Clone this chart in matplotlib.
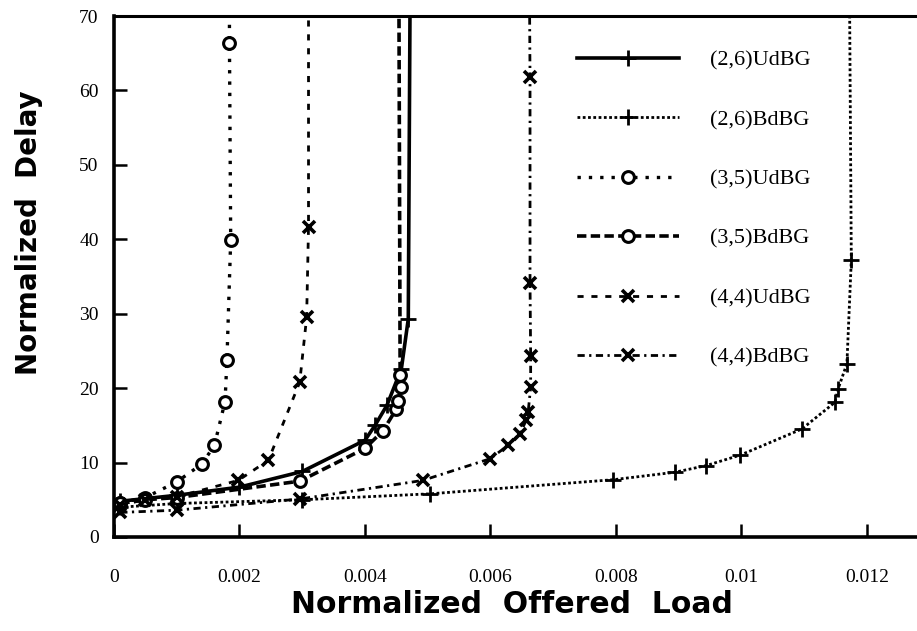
import matplotlib
matplotlib.use("Agg")
import matplotlib.pyplot as plt

# Delay vs. offered load for the three (d,k) de Bruijn configurations
ud26_x = [0.0001, 0.001, 0.002, 0.003, 0.004, 0.00416, 0.00435, 0.00458, 0.00469, 0.00472]
ud26_y = [4.8, 5.6, 6.7, 8.8, 13.0, 15.0, 17.7, 22.6, 29.3, 75]

bd26_x = [0.0001, 0.001, 0.003, 0.00504, 0.00796, 0.00894, 0.00944, 0.00998,
          0.01096, 0.01149, 0.01154, 0.01168, 0.01175, 0.01172]
bd26_y = [4.0, 4.5, 5.0, 5.8, 7.7, 8.7, 9.6, 11.0, 14.5, 18.1, 19.9, 23.3, 37.2, 75]

ud35_x = [0.0001, 0.0005, 0.001, 0.0014, 0.0016, 0.00177, 0.0018, 0.00186, 0.00184, 0.00184]
ud35_y = [4.6, 5.3, 7.4, 9.8, 12.3, 18.2, 23.8, 39.9, 66.4, 75]

bd35_x = [0.0001, 0.0005, 0.001, 0.00296, 0.004, 0.00429, 0.0045, 0.00453, 0.00458, 0.00456, 0.00454]
bd35_y = [4.5, 5.0, 5.3, 7.5, 11.9, 14.3, 17.2, 18.3, 20.1, 21.7, 75]

ud44_x = [0.0001, 0.0005, 0.001, 0.00198, 0.00246, 0.00296, 0.00307, 0.0031, 0.0031]
ud44_y = [4.3, 5.0, 5.4, 7.6, 10.3, 20.8, 29.5, 41.6, 75]

bd44_x = [0.0001, 0.001, 0.00296, 0.00492, 0.00599, 0.00628, 0.00647, 0.00657,
          0.0066, 0.00664, 0.00664, 0.00663, 0.00663, 0.00662]
bd44_y = [3.3, 3.6, 5.1, 7.6, 10.5, 12.3, 13.9, 15.7, 16.8, 20.1, 24.3, 34.1, 61.8, 75]

series_labels = ["(2,6)UdBG", "(2,6)BdBG", "(3,5)UdBG", "(3,5)BdBG", "(4,4)UdBG", "(4,4)BdBG"]

x_ticks = [0, 0.002, 0.004, 0.006, 0.008, 0.01, 0.012]
x_tick_labels = ["0", "0.002", "0.004", "0.006", "0.008", "0.01", "0.012"]
y_ticks = [0, 10, 20, 30, 40, 50, 60, 70]

fig = plt.figure(figsize=(9.17, 6.31), dpi=100)
ax = fig.add_axes([0.1243, 0.149, 1.0 - 0.1243, 0.9746 - 0.149])

k = dict(color="black", clip_on=True)
ax.plot(ud26_x, ud26_y, ls="-", lw=2.6, marker="+", ms=12, mew=2.0, label=series_labels[0], **k)
ax.plot(bd26_x, bd26_y, ls=(0, (1, 0.9)), lw=2.0, marker="+", ms=12, mew=2.0, label=series_labels[1], **k)
ax.plot(ud35_x, ud35_y, ls=(0, (1, 2.4)), lw=2.4, marker="o", ms=8.5, mew=2.2,
        mfc="white", label=series_labels[2], **k)
ax.plot(bd35_x, bd35_y, ls=(0, (2.6, 1.2)), lw=2.6, marker="o", ms=8.5, mew=2.2,
        mfc="white", label=series_labels[3], **k)
ax.plot(ud44_x, ud44_y, ls=(0, (2.2, 2.8)), lw=2.0, marker="x", ms=9, mew=2.6, label=series_labels[4], **k)
ax.plot(bd44_x, bd44_y, ls=(0, (2.6, 1.6, 0.8, 1.6)), lw=2.0, marker="x", ms=9, mew=2.6,
        label=series_labels[5], **k)

ax.set_xlim(0, (917 - 114) / 62750)
ax.set_ylim(0, 70)

ax.set_xticks(x_ticks)
ax.set_xticklabels(x_tick_labels)
ax.set_yticks(y_ticks)

tick_font = dict(family="Liberation Serif", size=14)
for lab in ax.get_xticklabels() + ax.get_yticklabels():
    lab.set_fontfamily(tick_font["family"])
    lab.set_fontsize(tick_font["size"])

ax.tick_params(axis="x", direction="in", length=9.5, width=1.8, pad=23)
ax.tick_params(axis="y", direction="in", length=9.5, width=1.8, pad=11)

for side in ("left", "bottom"):
    ax.spines[side].set_linewidth(2.6)
ax.spines["top"].set_linewidth(2.2)
ax.spines["right"].set_visible(False)

ax.set_xlabel("Normalized  Offered  Load",
              fontdict=dict(family="DejaVu Sans", weight="bold", size=21.5))
ax.xaxis.set_label_coords(0.496, -0.102)
ax.set_ylabel("Normalized  Delay",
              fontdict=dict(family="DejaVu Sans", weight="bold", size=20))
ax.yaxis.set_label_coords(-0.088, 0.585)

leg = ax.legend(loc="upper left", bbox_to_anchor=(577 / 917, (631 - 50) / 631),
                bbox_transform=fig.transFigure, frameon=False, numpoints=1,
                handlelength=4.6, handletextpad=1.4, labelspacing=1.75,
                borderpad=0, borderaxespad=0,
                prop=dict(family="Liberation Serif", size=16))

fig.savefig("out.png", dpi=100)
